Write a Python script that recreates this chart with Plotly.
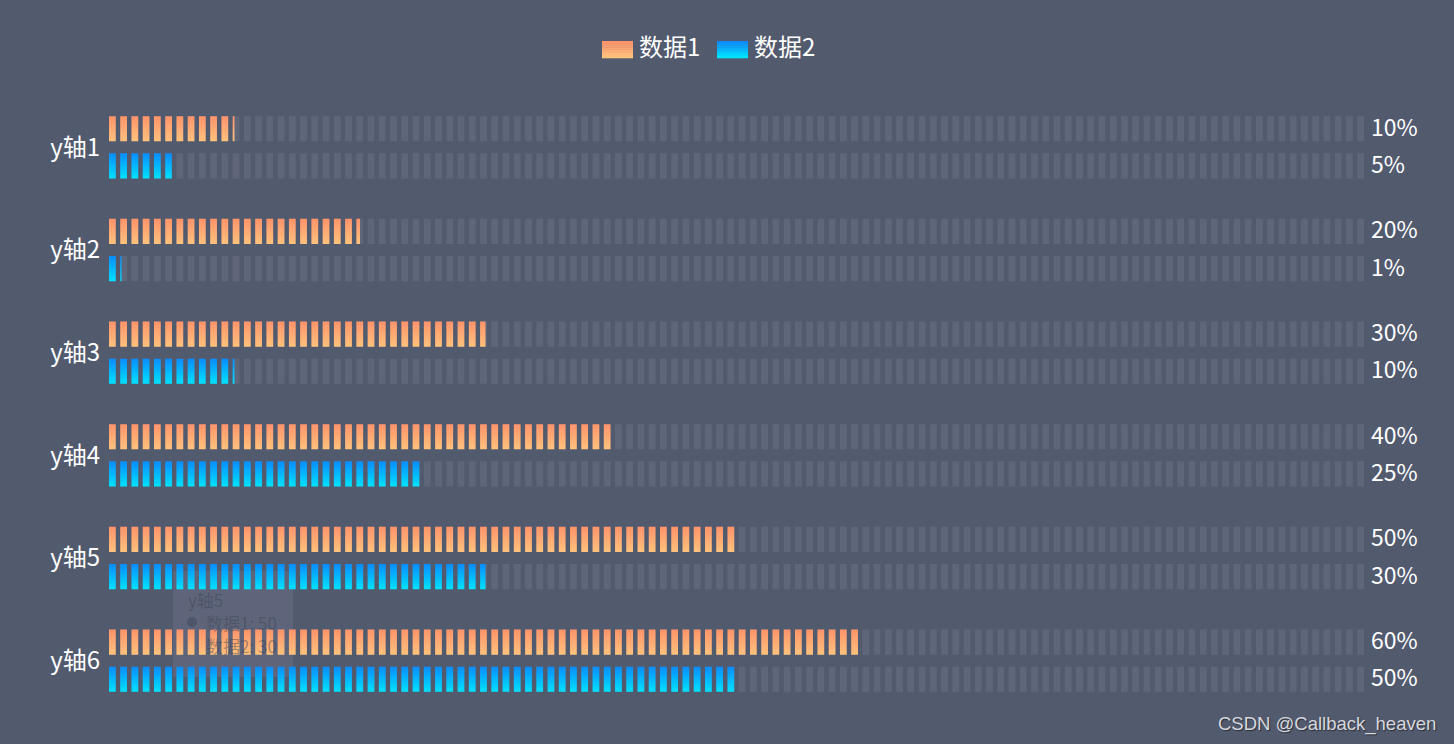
import plotly.graph_objects as go

# ---------------- data ----------------
categories = ["y轴1", "y轴2", "y轴3", "y轴4", "y轴5", "y轴6"]
series_names = ["数据1", "数据2"]
data1 = [10, 20, 30, 40, 50, 60]
data2 = [5, 1, 10, 25, 30, 50]
x_max = 100
segment_count = 112
tooltip_category = "y轴5"
watermark_text = "CSDN @Callback_heaven"

# ---------------- style ----------------
W, H = 1454, 744
ML, MR, MT, MB = 109, 90, 96, 32
BG = "#525a6e"
FONT = "Noto Sans CJK SC"
ORANGE = ("#ff936b", "#ffc27c")   # top, bottom
BLUE = ("#0a8cff", "#00e2ff")
TRACK = "rgba(255,255,255,0.08)"

pitch = x_max / (segment_count - 1 + 0.6)
seg_w = pitch * 0.6
bar_h = 0.245
offset = 0.181
n = len(categories)


def segments(value, yc):
    xs, ys = [], []
    for k in range(segment_count):
        x0 = k * pitch
        if x0 >= value:
            break
        x1 = min(x0 + seg_w, value)
        y0, y1 = yc - bar_h / 2, yc + bar_h / 2
        xs += [x0, x1, x1, x0, x0, None]
        ys += [y0, y0, y1, y1, y0, None]
    return xs, ys


fig = go.Figure()

# background track
tx, ty = [], []
for i in range(n):
    yc = n - 1 - i
    for off in (offset, -offset):
        a, b = segments(x_max, yc + off)
        tx += a
        ty += b
fig.add_trace(go.Scatter(x=tx, y=ty, mode="lines", fill="toself",
                         fillcolor=TRACK, line=dict(width=0, color=TRACK),
                         hoverinfo="skip", showlegend=False))

# colored bars
for vals, off, (top, bot) in ((data1, offset, ORANGE), (data2, -offset, BLUE)):
    for i, v in enumerate(vals):
        yc = n - 1 - i + off
        xs, ys = segments(v, yc)
        fig.add_trace(go.Scatter(
            x=xs, y=ys, mode="lines", fill="toself",
            fillgradient=dict(type="vertical", colorscale=[[0, bot], [1, top]]),
            line=dict(width=0, color=top), hoverinfo="skip", showlegend=False))

# value labels on the right
annotations = []
for vals, off in ((data1, offset), (data2, -offset)):
    for i, v in enumerate(vals):
        annotations.append(dict(
            x=x_max, y=n - 1 - i + off, xref="x", yref="y", xanchor="left",
            yanchor="middle", xshift=5, yshift=3, text=f"{v}%", showarrow=False,
            font=dict(family=FONT, size=23, color="#ffffff")))


def px_x(p):
    return (p - ML) / (W - ML - MR)


def px_y(p):
    return (H - MB - p) / (H - MT - MB)


shapes = []
# legend (manual)
legend_items = [(series_names[0], ORANGE, 602), (series_names[1], BLUE, 717)]
for name, (top, bot), x0 in legend_items:
    strips = 8
    hgt = 17
    for s in range(strips):
        t = s / (strips - 1)
        c0 = tuple(int(top[j:j + 2], 16) for j in (1, 3, 5))
        c1 = tuple(int(bot[j:j + 2], 16) for j in (1, 3, 5))
        c = tuple(round(c0[k] + (c1[k] - c0[k]) * t) for k in range(3))
        y0 = 41 + s * hgt / strips
        shapes.append(dict(type="rect", xref="paper", yref="paper",
                           x0=px_x(x0), x1=px_x(x0 + 31),
                           y0=px_y(y0), y1=px_y(y0 + hgt / strips + 0.3),
                           fillcolor=f"rgb{c}", line=dict(width=0), layer="above"))
    annotations.append(dict(x=px_x(x0 + 35), y=px_y(46), xref="paper", yref="paper",
                            xanchor="left", yanchor="middle", text=name, showarrow=False,
                            font=dict(family=FONT, size=24, color="#ffffff")))

# faded tooltip ghost
shapes.append(dict(type="rect", xref="paper", yref="paper",
                   x0=px_x(173), x1=px_x(293), y0=px_y(677), y1=px_y(571),
                   fillcolor="rgba(150,155,175,0.18)", line=dict(width=0), layer="below"))
tip_lines = [tooltip_category,
             f"{series_names[0]}: {data1[categories.index(tooltip_category)]}",
             f"{series_names[1]}: {data2[categories.index(tooltip_category)]}"]
for j, line in enumerate(tip_lines):
    annotations.append(dict(x=px_x(186 if j == 0 else 204), y=px_y(599 + 23 * j),
                            xref="paper", yref="paper", xanchor="left", yanchor="middle",
                            text=line, showarrow=False,
                            font=dict(family=FONT, size=17, color="rgba(60,66,84,0.45)")))
shapes.append(dict(type="circle", xref="paper", yref="paper",
                   x0=px_x(187), x1=px_x(197), y0=px_y(627), y1=px_y(617),
                   fillcolor="rgba(40,60,80,0.35)", line=dict(width=0)))

# watermark
annotations.append(dict(x=px_x(1438), y=px_y(724), xref="paper", yref="paper",
                        xanchor="right", yanchor="middle", text=watermark_text,
                        showarrow=False,
                        font=dict(family="Liberation Sans, Arial", size=18.5,
                                  color="#d6d8de", shadow="1px 1px 1px #2a2f3a")))

fig.update_layout(
    width=W, height=H,
    margin=dict(l=ML, r=MR, t=MT, b=MB, pad=0),
    paper_bgcolor=BG, plot_bgcolor=BG,
    showlegend=False,
    xaxis=dict(range=[0, x_max], visible=False, fixedrange=True),
    yaxis=dict(range=[-0.5, n - 0.5], tickvals=[n - 1 - i for i in range(n)],
               ticktext=categories, showgrid=False, zeroline=False, showline=False,
               ticks="", ticklabelstandoff=8,
               tickfont=dict(family=FONT, size=24, color="#ffffff"), fixedrange=True),
    annotations=annotations, shapes=shapes,
)

fig.write_html("out.html", config={"displayModeBar": False})
